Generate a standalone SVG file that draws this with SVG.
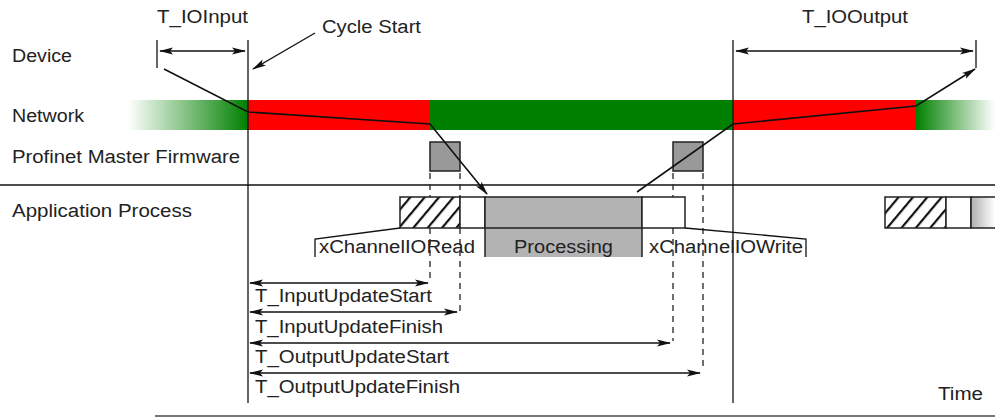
<svg xmlns="http://www.w3.org/2000/svg" width="995" height="418" viewBox="0 0 995 418">
<style>
text{font-family:"Liberation Sans",Arial,sans-serif;font-size:18px;fill:#222}
.ln{stroke:#111;stroke-width:1.6;fill:none}
.thin{stroke:#111;stroke-width:1.3;fill:none}
.dash{stroke:#333;stroke-width:1.4;stroke-dasharray:6 5;fill:none}
.box{stroke:#222;stroke-width:1.5}
</style>
<defs>
<marker id="ah" markerWidth="14" markerHeight="8" refX="13" refY="4" orient="auto-start-reverse" markerUnits="userSpaceOnUse">
<path d="M0,0.5 L14,4 L0,7.5 L3,4 Z" fill="#111"/>
</marker>
<linearGradient id="gl" x1="0" y1="0" x2="1" y2="0">
<stop offset="0" stop-color="#008000" stop-opacity="0"/>
<stop offset="1" stop-color="#008000" stop-opacity="1"/>
</linearGradient>
<linearGradient id="gr" x1="0" y1="0" x2="1" y2="0">
<stop offset="0" stop-color="#008000" stop-opacity="1"/>
<stop offset="1" stop-color="#008000" stop-opacity="0"/>
</linearGradient>
<linearGradient id="gg" x1="0" y1="0" x2="1" y2="0">
<stop offset="0" stop-color="#b0b0b0"/>
<stop offset="1" stop-color="#b0b0b0" stop-opacity="0"/>
</linearGradient>
<pattern id="hatch" patternUnits="userSpaceOnUse" width="11" height="11" patternTransform="rotate(40)">
<rect width="11" height="11" fill="#fff"/>
<rect x="0" y="0" width="2.2" height="11" fill="#111"/>
</pattern>
</defs>

<g id="row-labels">
<text x="12" y="62" textLength="60" lengthAdjust="spacingAndGlyphs">Device</text>
<text x="12" y="122" textLength="72" lengthAdjust="spacingAndGlyphs">Network</text>
<text x="12" y="163" textLength="228" lengthAdjust="spacingAndGlyphs">Profinet Master Firmware</text>
<text x="12" y="217" textLength="180" lengthAdjust="spacingAndGlyphs">Application Process</text>
</g>

<g id="network">
<rect x="128" y="100" width="120" height="30" fill="url(#gl)"/>
<rect x="248" y="100" width="182" height="30" fill="#ff0000"/>
<rect x="430" y="100" width="303" height="30" fill="#008000"/>
<rect x="733" y="100" width="183" height="30" fill="#ff0000"/>
<rect x="916" y="100" width="79" height="30" fill="url(#gr)"/>
</g>

<g id="firmware-read">
<rect class="box" x="430" y="142" width="30" height="29" fill="#999"/>
</g>
<g id="firmware-write">
<rect class="box" x="673" y="142" width="30" height="29" fill="#999"/>
</g>

<g id="connectors">
<line class="ln" x1="0" y1="185" x2="995" y2="185"/>
<line class="thin" x1="248" y1="40" x2="248" y2="403"/>
<line class="thin" x1="733" y1="40" x2="733" y2="403"/>
<line class="thin" x1="157" y1="40" x2="157" y2="68"/>
<line class="thin" x1="976" y1="40" x2="976" y2="68"/>
<line class="thin" x1="160" y1="51" x2="245" y2="51" marker-start="url(#ah)" marker-end="url(#ah)"/>
<line class="thin" x1="736" y1="51" x2="973" y2="51" marker-start="url(#ah)" marker-end="url(#ah)"/>
<line class="thin" x1="315" y1="33" x2="253" y2="69" marker-end="url(#ah)"/>
<polyline class="ln" points="164,69 248,112 430,124 487,194" marker-end="url(#ah)"/>
<polyline class="ln" points="637,192 733,124 916,106 975,69" marker-end="url(#ah)"/>
<line class="dash" x1="430" y1="173" x2="430" y2="279"/>
<line class="dash" x1="460" y1="173" x2="460" y2="311"/>
<line class="dash" x1="673" y1="173" x2="673" y2="341"/>
<line class="dash" x1="703" y1="173" x2="703" y2="371"/>
<line class="thin" x1="250" y1="283" x2="428" y2="283" marker-start="url(#ah)" marker-end="url(#ah)"/>
<line class="thin" x1="250" y1="312" x2="457" y2="312" marker-start="url(#ah)" marker-end="url(#ah)"/>
<line class="thin" x1="250" y1="343" x2="670" y2="343" marker-start="url(#ah)" marker-end="url(#ah)"/>
<line class="thin" x1="250" y1="373" x2="700" y2="373" marker-start="url(#ah)" marker-end="url(#ah)"/>
<line x1="155" y1="416" x2="995" y2="416" stroke="#777" stroke-width="2"/>
</g>

<g id="app-read">
<rect class="box" x="400" y="197" width="60" height="31" fill="url(#hatch)"/>
<rect class="box" x="460" y="197" width="25" height="31" fill="#fff"/>
<text x="319" y="253" textLength="156" lengthAdjust="spacingAndGlyphs">xChannelIORead</text>
<path class="thin" d="M400,228 L315,239 L315,257"/>
</g>
<g id="processing">
<rect x="485" y="197" width="157" height="60" fill="#b3b3b3"/>
<path class="box" fill="none" d="M485,257 L485,197 L642,197 L642,257 M485,228 L642,228"/>
<text x="514" y="253" textLength="99" lengthAdjust="spacingAndGlyphs">Processing</text>
</g>
<g id="app-write">
<rect class="box" x="642" y="197" width="43" height="31" fill="#fff"/>
<text x="649" y="253" textLength="154" lengthAdjust="spacingAndGlyphs">xChannelIOWrite</text>
<path class="thin" d="M685,228 L806,239 L806,257"/>
</g>
<g id="app-next">
<rect class="box" x="885" y="197" width="61" height="31" fill="url(#hatch)"/>
<rect class="box" x="946" y="197" width="25" height="31" fill="#fff"/>
<rect x="971" y="197" width="24" height="31" fill="url(#gg)"/>
<path class="box" fill="none" d="M995,197 L971,197 L971,228 L995,228"/>
</g>

<g id="annotations">
<text x="157" y="23" textLength="91" lengthAdjust="spacingAndGlyphs">T_IOInput</text>
<text x="322" y="33" textLength="99" lengthAdjust="spacingAndGlyphs">Cycle Start</text>
<text x="802" y="23" textLength="106" lengthAdjust="spacingAndGlyphs">T_IOOutput</text>
<text x="255" y="302" textLength="177" lengthAdjust="spacingAndGlyphs">T_InputUpdateStart</text>
<text x="255" y="333" textLength="188" lengthAdjust="spacingAndGlyphs">T_InputUpdateFinish</text>
<text x="255" y="363" textLength="194" lengthAdjust="spacingAndGlyphs">T_OutputUpdateStart</text>
<text x="255" y="393" textLength="205" lengthAdjust="spacingAndGlyphs">T_OutputUpdateFinish</text>
<text x="938" y="400" textLength="45" lengthAdjust="spacingAndGlyphs">Time</text>
</g>
</svg>
